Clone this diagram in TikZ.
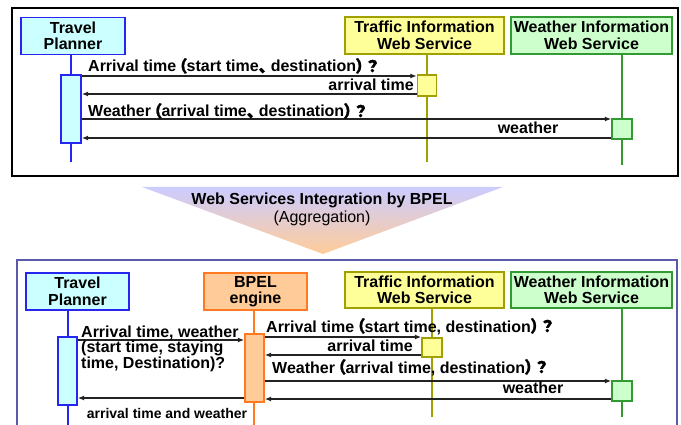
\documentclass[tikz,border=0pt]{standalone}
\usepackage{fontspec}
\setmainfont{Liberation Sans}
\newfontfamily\cjk{Noto Sans CJK JP}[RawFeature=+palt,FakeBold=1.5]
\usetikzlibrary{arrows.meta}

\definecolor{tpline}{HTML}{2626F0}
\definecolor{tpfill}{HTML}{CCFFFF}
\definecolor{tfline}{HTML}{A0A000}
\definecolor{tffill}{HTML}{FFFF99}
\definecolor{wxline}{HTML}{339933}
\definecolor{wxfill}{HTML}{CCFFCC}
\definecolor{bpline}{HTML}{FF7A20}
\definecolor{bpfill}{HTML}{FFCC99}
\definecolor{msgline}{HTML}{222222}
\definecolor{frameb}{HTML}{5A5AA8}

% full width punctuation
\newcommand{\lpar}{\kern2.5pt{\cjk （}}
\newcommand{\rparq}{{\cjk ）}\kern3pt{\cjk ？}}
\newcommand{\jcomma}{{\cjk 、}\kern4pt}

\begin{document}
\begin{tikzpicture}[x=1pt,y=-1pt,
    actor/.style 2 args={draw=#1,fill=#2,line width=1.4pt,minimum height=37pt,
      inner sep=0pt,align=center,font=\bfseries\fontsize{16}{16.5}\selectfont},
    act/.style 2 args={draw=#1,fill=#2,line width=1.4pt,minimum width=19pt,inner sep=0pt},
    life/.style={draw=#1,line width=1.4pt},
    msg/.style={draw=msgline,line width=1.4pt,-{Latex[length=6.5pt,width=5pt]}},
    lbl/.style={inner sep=0pt,font=\bfseries\fontsize{16}{16}\selectfont}]
  \useasboundingbox (0,0) rectangle (681,425);

  %%% before: planner asks both services itself
  \draw [line width=1.6pt] (12,8) rectangle (678,176);

  \node [actor={tpline}{tpfill},minimum width=104pt] (tp) at (73,36) {Travel\\Planner};
  \node [actor={tfline}{tffill},minimum width=159pt] (tf) at (424.5,35.5) {Traffic Information\\Web Service};
  \node [actor={wxline}{wxfill},minimum width=161pt] (wx) at (591.5,35.5) {Weather Information\\Web Service};

  \coordinate (tpend) at (71,162);
  \coordinate (tfend) at (427,162);
  \coordinate (wxend) at (622,165);
  \draw [life=tpline] (tp.south -| tpend) -- (tpend);
  \draw [life=tfline] (tf.south -| tfend) -- (tfend);
  \draw [life=wxline] (wx.south -| wxend) -- (wxend);

  \node [act={tpline}{tpfill},minimum width=20pt,minimum height=68pt] (tpa) at (71,109) {};
  \node [act={tfline}{tffill},minimum height=21pt] (tfa) at (427,85.5) {};
  \node [act={wxline}{wxfill},minimum width=20pt,minimum height=20pt] (wxa) at (622,129) {};

  \draw [msg] (tpa.east |- 0,76) -- (tfa.west |- 0,76);
  \draw [msg] (tfa.west |- 0,94) -- (tpa.east |- 0,94);
  \draw [msg] (tpa.east |- 0,119) -- (wxa.west |- 0,119);
  \draw [msg] (wxa.west |- 0,138) -- (tpa.east |- 0,138);

  \node [lbl,anchor=base west] (q1) at (88,72) {Arrival time\lpar start time\jcomma destination\rparq};
  \node [lbl,anchor=base east] (r1) at (414,91) {arrival time};
  \node [lbl,anchor=base west] (q2) at (88,117) {Weather\lpar arrival time\jcomma destination\rparq};
  \node [lbl,anchor=base] (r2) at (528,134) {weather};

  %%% the step between
  \shade [top color=blue!20,bottom color=bpfill] (142,187) -- (503,187) -- (323,254) -- cycle;
  \node [lbl,anchor=base] (ttl) at (322,205) {Web Services Integration by BPEL};
  \node [inner sep=0pt,anchor=base,font=\fontsize{16}{16}\selectfont] (sub) at (322,223) {(Aggregation)};

  %%% after: one call to the BPEL engine
  \draw [frameb,line width=1.6pt] (17,426) -- (17,260) -- (677,260) -- (677,426);

  \node [actor={tpline}{tpfill},minimum width=103pt] (tp2) at (77.5,291.5) {Travel\\Planner};
  \node [actor={bpline}{bpfill},minimum width=103pt] (bp) at (255.5,291.5) {BPEL\\engine};
  \node [actor={tfline}{tffill},minimum width=159pt,minimum height=36pt] (tf2) at (424.5,290) {Traffic Information\\Web Service};
  \node [actor={wxline}{wxfill},minimum width=161pt,minimum height=36pt] (wx2) at (591.5,290) {Weather Information\\Web Service};

  \coordinate (tp2end) at (68,426);
  \coordinate (bpend) at (254,426);
  \coordinate (tf2end) at (432,417);
  \coordinate (wx2end) at (622,417);
  \draw [life=tpline] (tp2.south -| tp2end) -- (tp2end);
  \draw [life=bpline] (bp.south -| bpend) -- (bpend);
  \draw [life=tfline] (tf2.south -| tf2end) -- (tf2end);
  \draw [life=wxline] (wx2.south -| wx2end) -- (wx2end);

  \node [act={tpline}{tpfill},minimum height=68pt] (tpa2) at (67.5,371) {};
  \node [act={bpline}{bpfill},minimum height=68pt] (bpa) at (254.5,368) {};
  \node [act={tfline}{tffill},minimum width=20pt,minimum height=19pt] (tfa2) at (432,347.5) {};
  \node [act={wxline}{wxfill},minimum width=20pt,minimum height=20pt] (wxa2) at (622,391) {};

  \draw [msg] (tpa2.east |- 0,340) -- (bpa.west |- 0,340);
  \draw [msg] (bpa.west |- 0,398) -- (tpa2.east |- 0,398);
  \draw [msg] (bpa.east |- 0,337) -- (tfa2.west |- 0,337);
  \draw [msg] (tfa2.west |- 0,355) -- (bpa.east |- 0,355);
  \draw [msg] (bpa.east |- 0,381) -- (wxa2.west |- 0,381);
  \draw [msg] (wxa2.west |- 0,399) -- (bpa.east |- 0,399);

  \node [lbl,anchor=north west,align=left,font=\bfseries\fontsize{16}{15.7}\selectfont] (q0) at (81,325.5)
    {Arrival time, weather\\(start time, staying\\time, Destination)?};
  \node [lbl,anchor=base,font=\bfseries\fontsize{14}{14}\selectfont] (r0) at (167,418) {arrival time and weather};
  \node [lbl,anchor=base west] (q3) at (266,332) {Arrival time\lpar start time, destination\rparq};
  \node [lbl,anchor=base east] (r3) at (413,351) {arrival time};
  \node [lbl,anchor=base west] (q4) at (272,373) {Weather\lpar arrival time, destination\rparq};
  \node [lbl,anchor=base] (r4) at (533,393) {weather};
\end{tikzpicture}
\end{document}
